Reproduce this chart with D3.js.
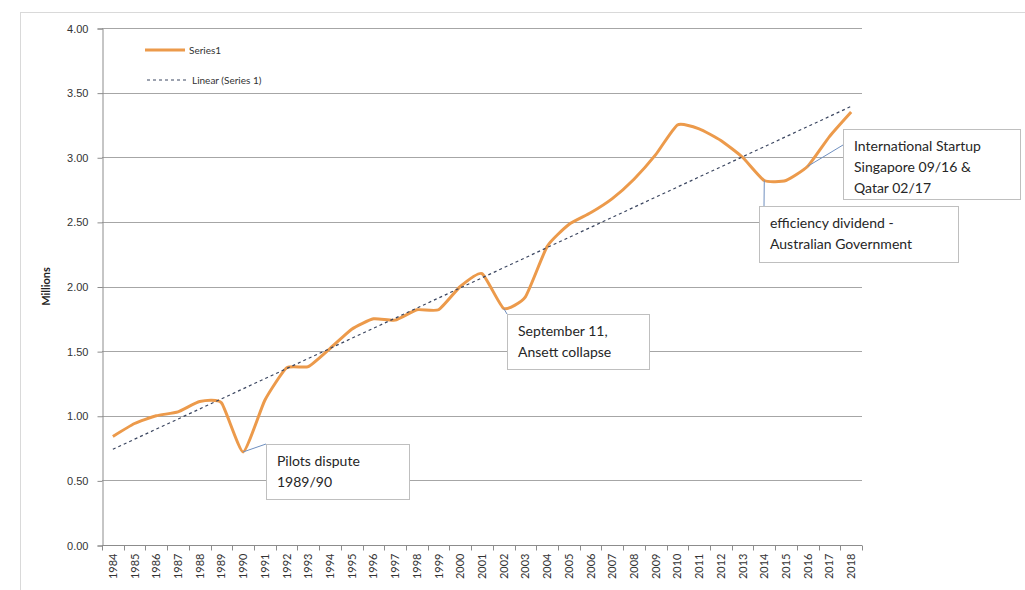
<!DOCTYPE html>
<html>
<head>
<meta charset="utf-8">
<script src="https://cdn.jsdelivr.net/npm/d3@7"></script>
<style>
  body { margin: 0; background: #fff; }
  svg { font-family: Lato, "Open Sans", sans-serif; }
</style>
</head>
<body>
<svg id="chart" width="1025" height="590"></svg>
<script>
// passengers per year (millions)
var years = ["1984","1985","1986","1987","1988","1989","1990","1991","1992","1993",
             "1994","1995","1996","1997","1998","1999","2000","2001","2002","2003",
             "2004","2005","2006","2007","2008","2009","2010","2011","2012","2013",
             "2014","2015","2016","2017","2018"];
var series1 = [0.84,0.94,1.00,1.03,1.11,1.10,0.72,1.12,1.37,1.38,
               1.52,1.67,1.75,1.74,1.82,1.82,2.00,2.10,1.83,1.92,
               2.31,2.48,2.57,2.68,2.83,3.02,3.25,3.22,3.13,3.00,
               2.82,2.82,2.93,3.16,3.35];
var yTicks = [0, 0.5, 1, 1.5, 2, 2.5, 3, 3.5, 4];
var callouts = [
  {year: "1990", text: ["Pilots dispute", "1989/90"], box: [266, 444, 143, 55], anchor: [0, 0]},
  {year: "2002", text: ["September 11,", "Ansett collapse"], box: [507, 314, 142, 55], anchor: [0, 0]},
  {year: "2014", text: ["efficiency dividend -", "Australian Government"], box: [759, 206, 199, 56], anchor: [5, 0]},
  {year: "2016", text: ["International Startup", "Singapore 09/16 &", "Qatar 02/17"], box: [843, 129, 177, 70], anchor: [0, 16]}
];

var margin = {top: 28, right: 163, bottom: 45, left: 102},
    width = 1025,
    height = 590;

var svg = d3.select("#chart");

// outer chart frame
svg.append("rect")
   .attr("x", 20.5).attr("y", 12.5)
   .attr("width", 1010).attr("height", 590)
   .attr("fill", "none").attr("stroke", "#d9d9d9");

var x = d3.scaleBand().domain(years).range([margin.left, width - margin.right]),
    y = d3.scaleLinear().domain([0, 4]).range([height - margin.bottom, margin.top]);

var X = function(i) { return x(years[i]) + x.bandwidth() / 2; };

// gridlines
svg.append("g")
   .selectAll("line")
   .data(yTicks.slice(1))
   .enter().append("line")
   .attr("x1", margin.left).attr("x2", width - margin.right)
   .attr("y1", function(d) { return Math.round(y(d)) + 0.5; })
   .attr("y2", function(d) { return Math.round(y(d)) + 0.5; })
   .attr("stroke", "#a6a6a6");

// y axis
var yAxis = d3.axisLeft(y).tickValues(yTicks).tickFormat(d3.format(".2f")).tickSize(5).tickPadding(9);
var gy = svg.append("g")
   .attr("transform", "translate(" + (margin.left + 0.5) + ",0.5)")
   .call(yAxis);
gy.select(".domain").attr("stroke", "#8c8c8c");
gy.selectAll(".tick line").attr("stroke", "#8c8c8c");
gy.selectAll("text").attr("font-size", 11).attr("fill", "#333");

// x axis, ticks on category boundaries
var gx = svg.append("g")
   .attr("transform", "translate(0," + (Math.round(y(0)) + 0.5) + ")");
gx.append("line")
   .attr("x1", margin.left).attr("x2", width - margin.right)
   .attr("stroke", "#8c8c8c");
gx.selectAll(".bt")
   .data(years.concat(["end"]))
   .enter().append("line")
   .attr("x1", function(d, i) { return Math.round(margin.left + i * x.step()) + 0.5; })
   .attr("x2", function(d, i) { return Math.round(margin.left + i * x.step()) + 0.5; })
   .attr("y1", 0).attr("y2", 5)
   .attr("stroke", "#8c8c8c");
gx.selectAll("text")
   .data(years)
   .enter().append("text")
   .attr("transform", function(d, i) { return "translate(" + (X(i) + 4) + ",8) rotate(-90)"; })
   .attr("text-anchor", "end")
   .attr("font-size", 11)
   .attr("fill", "#333")
   .text(function(d) { return d; });

// y title
svg.append("text")
   .attr("transform", "translate(50," + y(2) + ") rotate(-90)")
   .attr("text-anchor", "middle")
   .attr("font-size", 11)
   .attr("font-weight", "bold")
   .attr("fill", "#222")
   .text("Millions");

// linear trend (least squares, as Excel's trendline)
var n = series1.length,
    mx = d3.mean(series1, function(d, i) { return i; }),
    my = d3.mean(series1),
    sxy = d3.sum(series1, function(d, i) { return (i - mx) * (d - my); }),
    sxx = d3.sum(series1, function(d, i) { return (i - mx) * (i - mx); }),
    slope = sxy / sxx,
    icpt = my - slope * mx;

var line = d3.line()
   .curve(d3.curveCardinal.tension(0.5))
   .x(function(d, i) { return X(i); })
   .y(function(d) { return y(d); });

svg.append("path")
   .datum(series1)
   .attr("d", line)
   .attr("fill", "none")
   .attr("stroke", "#ec9a4b")
   .attr("stroke-width", 3)
   .attr("stroke-linejoin", "round");

svg.append("line")
   .attr("x1", X(0)).attr("y1", y(icpt))
   .attr("x2", X(n - 1)).attr("y2", y(icpt + slope * (n - 1)))
   .attr("stroke", "#3b4660")
   .attr("stroke-width", 1.2)
   .attr("stroke-dasharray", "3,3");

// legend
var legend = svg.append("g").attr("font-size", 10).attr("fill", "#333");
legend.append("line").attr("x1", 145).attr("x2", 185).attr("y1", 50).attr("y2", 50)
   .attr("stroke", "#ec9a4b").attr("stroke-width", 3);
legend.append("text").attr("x", 189).attr("y", 53.5).text("Series1");
legend.append("line").attr("x1", 147).attr("x2", 187).attr("y1", 80).attr("y2", 80)
   .attr("stroke", "#3b4660").attr("stroke-dasharray", "3,3");
legend.append("text").attr("x", 192).attr("y", 83.5).text("Linear (Series 1)");

// callouts
var cg = svg.append("g").selectAll("g").data(callouts).enter().append("g");
cg.append("line")
   .attr("x1", function(d) { return X(years.indexOf(d.year)); })
   .attr("y1", function(d) { return y(series1[years.indexOf(d.year)]); })
   .attr("x2", function(d) { return d.box[0] + d.anchor[0]; })
   .attr("y2", function(d) { return d.box[1] + d.anchor[1]; })
   .attr("stroke", "#6f8fbf");
cg.append("rect")
   .attr("x", function(d) { return d.box[0] + 0.5; })
   .attr("y", function(d) { return d.box[1] + 0.5; })
   .attr("width", function(d) { return d.box[2]; })
   .attr("height", function(d) { return d.box[3]; })
   .attr("fill", "#fff")
   .attr("stroke", "#bfbfbf");
cg.each(function(d) {
  var g = d3.select(this);
  d.text.forEach(function(t, i) {
    g.append("text")
     .attr("x", d.box[0] + 11)
     .attr("y", d.box[1] + 22 + i * 21)
     .attr("font-size", 14)
     .attr("fill", "#262626")
     .text(t);
  });
});
</script>
</body>
</html>
